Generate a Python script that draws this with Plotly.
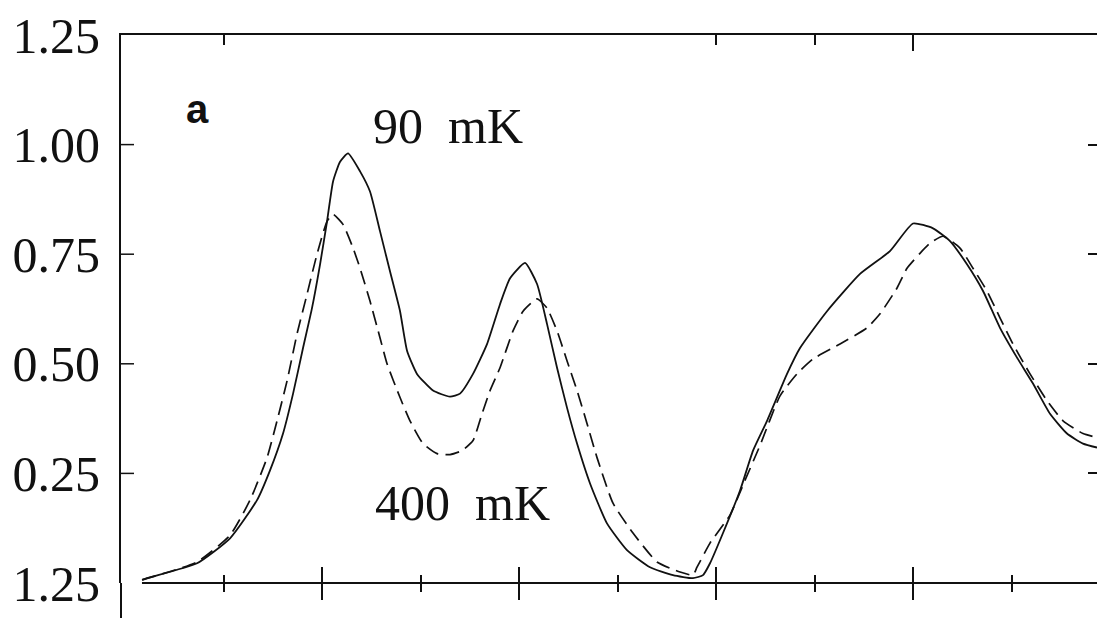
import plotly.graph_objects as go

# ---- data (x in tick units, y in plotted units) ----
x_90mK = [0.173, 0.223, 0.731, 1.066, 1.340, 1.472, 1.604, 1.706, 1.807, 1.898, 1.980, 2.051,
          2.112, 2.183, 2.264, 2.386, 2.487, 2.589, 2.690, 2.792, 2.863, 2.964, 3.127, 3.299,
          3.401, 3.533, 3.675, 3.807, 3.909, 4.061, 4.183, 4.284, 4.386, 4.487, 4.589, 4.721,
          4.893, 5.096, 5.330, 5.563, 5.766, 5.868, 5.939, 6.071, 6.244, 6.376, 6.518, 6.721,
          6.853, 7.127, 7.462, 7.766, 8.000, 8.203, 8.376, 8.548, 8.711, 8.883, 9.056, 9.218,
          9.391, 9.563, 9.726, 9.868]
y_90mK = [0.007, 0.011, 0.045, 0.102, 0.189, 0.257, 0.341, 0.432, 0.536, 0.627, 0.727, 0.825,
          0.916, 0.961, 0.980, 0.939, 0.893, 0.802, 0.711, 0.620, 0.530, 0.477, 0.439, 0.425,
          0.432, 0.477, 0.545, 0.636, 0.695, 0.730, 0.682, 0.591, 0.491, 0.400, 0.318, 0.227,
          0.136, 0.075, 0.036, 0.018, 0.011, 0.018, 0.045, 0.114, 0.211, 0.302, 0.370, 0.477,
          0.536, 0.620, 0.705, 0.757, 0.820, 0.809, 0.780, 0.727, 0.666, 0.582, 0.514, 0.455,
          0.386, 0.341, 0.318, 0.309]

x_400mK = [0.173, 0.731, 1.066, 1.269, 1.442, 1.543, 1.645, 1.746, 1.848, 1.949, 2.051, 2.112,
           2.213, 2.315, 2.386, 2.487, 2.589, 2.660, 2.792, 2.893, 3.025, 3.168, 3.299, 3.421,
           3.533, 3.624, 3.706, 3.807, 3.939, 4.041, 4.183, 4.284, 4.386, 4.487, 4.589, 4.690,
           4.792, 4.954, 5.157, 5.401, 5.635, 5.766, 5.807, 5.939, 6.142, 6.294, 6.447, 6.650,
           6.822, 6.985, 7.259, 7.533, 7.665, 7.838, 7.939, 8.071, 8.173, 8.305, 8.477, 8.609,
           8.751, 8.883, 9.015, 9.188, 9.360, 9.523, 9.726, 9.868]
y_400mK = [0.007, 0.048, 0.109, 0.189, 0.286, 0.370, 0.461, 0.568, 0.659, 0.750, 0.825, 0.841,
           0.818, 0.764, 0.718, 0.643, 0.559, 0.500, 0.423, 0.370, 0.318, 0.295, 0.293, 0.302,
           0.325, 0.386, 0.439, 0.491, 0.575, 0.620, 0.648, 0.627, 0.575, 0.507, 0.439, 0.364,
           0.286, 0.182, 0.114, 0.048, 0.025, 0.018, 0.036, 0.091, 0.155, 0.234, 0.314, 0.427,
           0.477, 0.511, 0.545, 0.582, 0.614, 0.673, 0.718, 0.752, 0.775, 0.791, 0.764, 0.718,
           0.666, 0.605, 0.545, 0.477, 0.416, 0.370, 0.341, 0.332]

y_tickvals = [0.0, 0.25, 0.5, 0.75, 1.0, 1.25]
y_ticktext = ["1.25", "0.25", "0.50", "0.75", "1.00", "1.25"]
y_inner_ticks = [0.25, 0.5, 0.75, 1.0]
x_major = [2, 4, 6, 8]
x_minor = [1, 3, 5, 7, 9]

INK = "#111111"
SERIF = "Liberation Serif, Times New Roman, serif"

X_RANGE = [-0.041, 9.868]
Y_RANGE = [0, 1.25]

fig = go.Figure()
fig.add_trace(go.Scatter(x=x_90mK, y=y_90mK, mode="lines", name="90 mK",
                         line=dict(color=INK, width=1.8, shape="spline", smoothing=0.5)))
fig.add_trace(go.Scatter(x=x_400mK, y=y_400mK, mode="lines", name="400 mK",
                         line=dict(color=INK, width=1.7, dash="14px,7px", shape="spline", smoothing=0.5)))
# empty traces so the overlay axes (inner bottom ticks, top frame, right inner ticks) exist
for xa, ya in (("x2", "y"), ("x3", "y"), ("x", "y2")):
    fig.add_trace(go.Scatter(x=[], y=[], xaxis=xa, yaxis=ya, showlegend=False,
                             hoverinfo="skip", mode="lines"))

common_x = dict(range=X_RANGE, showgrid=False, zeroline=False, showticklabels=False)
common_y = dict(range=Y_RANGE, showgrid=False, zeroline=False)

fig.update_layout(
    width=1097, height=618,
    margin=dict(l=121, r=0, t=35, b=35),
    paper_bgcolor="white", plot_bgcolor="white",
    showlegend=False,
    xaxis=dict(**common_x, showline=False, ticks="outside", tickvals=x_major,
               ticklen=16, tickwidth=2, tickcolor=INK,
               minor=dict(ticks="outside", tickvals=x_minor, ticklen=8, tickwidth=1.5, tickcolor=INK)),
    xaxis2=dict(**common_x, overlaying="x", side="bottom", anchor="y",
                showline=False, ticks="inside", tickvals=x_major, ticklen=16, tickwidth=2,
                tickcolor=INK,
                minor=dict(ticks="inside", tickvals=x_minor, ticklen=8, tickwidth=1.5, tickcolor=INK)),
    xaxis3=dict(**common_x, overlaying="x", side="top", anchor="y",
                showline=True, linecolor=INK, linewidth=2, ticks="inside",
                tickvals=[8], ticklen=16, tickwidth=2, tickcolor=INK,
                minor=dict(ticks="inside", tickvals=[1, 6, 7], ticklen=10, tickwidth=1.5, tickcolor=INK)),
    yaxis=dict(**common_y, showline=True, linecolor=INK, linewidth=2,
               ticks="", tickvals=y_tickvals, ticktext=y_ticktext,
               ticklabelstandoff=9,
               tickfont=dict(family=SERIF, size=50, color=INK)),
    yaxis2=dict(**common_y, overlaying="y", side="right", anchor="x",
                showline=False, showticklabels=False,
                ticks="inside", tickvals=y_inner_ticks, ticklen=9, tickwidth=1.5,
                tickcolor=INK),
)

# left inner tick marks, placed through the y scale at the tick values
for v in y_inner_ticks:
    fig.add_shape(type="line", xref="paper", yref="y", x0=0.0, x1=13 / 976, y0=v, y1=v,
                  line=dict(color=INK, width=1.5))

# bottom axis line (starts where the traces start) and left-axis extension
fig.add_shape(type="line", xref="paper", yref="paper", x0=0.0215, x1=1.0, y0=0, y1=0,
              line=dict(color=INK, width=2))
fig.add_shape(type="line", xref="paper", yref="paper", x0=0.0, x1=0.0, y0=0, y1=-0.07,
              line=dict(color=INK, width=2))

fig.add_annotation(x=0.74, y=1.082, text="<b>a</b>", showarrow=False,
                   font=dict(family="Liberation Sans, Arial, sans-serif", size=40, color=INK))
fig.add_annotation(x=3.28, y=1.043, text="90&nbsp;&nbsp;mK", showarrow=False,
                   font=dict(family=SERIF, size=50, color=INK))
fig.add_annotation(x=3.43, y=0.182, text="400&nbsp;&nbsp;mK", showarrow=False,
                   font=dict(family=SERIF, size=50, color=INK))

fig.write_html("out.html")
